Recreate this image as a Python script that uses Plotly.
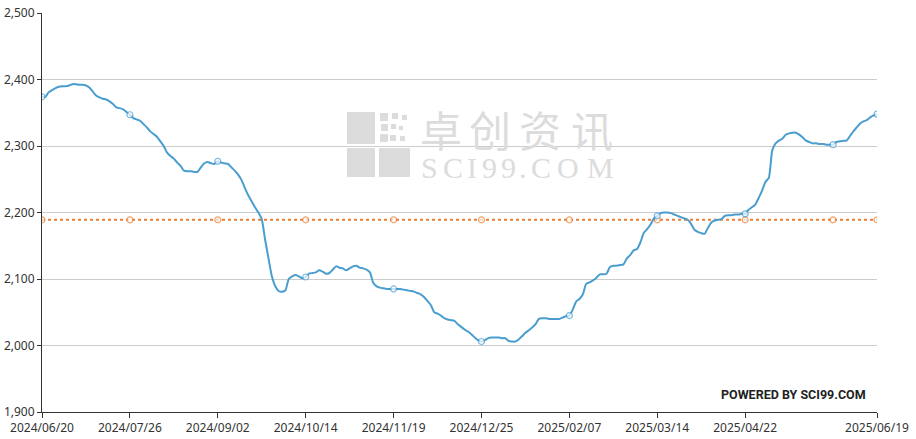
import pandas as pd
import plotly.graph_objects as go

# ---- categories: Chinese working days 2024/06/20 .. 2025/06/19 ----
holidays = ["2024-09-16", "2024-09-17", "2024-10-01", "2024-10-02", "2024-10-03",
            "2024-10-04", "2024-10-07", "2025-01-01", "2025-01-28", "2025-01-29",
            "2025-01-30", "2025-01-31", "2025-02-03", "2025-02-04", "2025-04-04",
            "2025-05-01", "2025-05-02", "2025-05-05", "2025-06-02"]
extra_workdays = ["2024-09-14", "2024-09-29", "2024-10-12", "2025-01-26",
                  "2025-02-08", "2025-04-27"]
_days = pd.bdate_range("2024-06-20", "2025-06-19")
_days = _days.difference(pd.to_datetime(holidays)).union(pd.to_datetime(extra_workdays))
dates = [d.strftime("%Y/%m/%d") for d in sorted(_days)]

# ---- series values ----
price = [
    2374, 2374, 2381, 2384, 2387, 2389, 2390, 2390, 2391, 2393,
    2393, 2392, 2392, 2391, 2388, 2382, 2376, 2373, 2371, 2370,
    2367, 2363, 2358, 2357, 2355, 2351, 2347, 2342, 2340, 2338,
    2333, 2328, 2322, 2318, 2314, 2307, 2300, 2290, 2285, 2281,
    2275, 2270, 2263, 2262, 2262, 2261, 2261, 2268, 2274, 2276,
    2274, 2273, 2277, 2275, 2274, 2273, 2268, 2263, 2257, 2249,
    2237, 2226, 2217, 2208, 2200, 2190, 2159, 2131, 2104, 2089,
    2082, 2081, 2083, 2100, 2104, 2106, 2104, 2101, 2103, 2108,
    2109, 2110, 2113, 2111, 2108, 2109, 2114, 2119, 2117, 2116,
    2113, 2116, 2119, 2120, 2117, 2116, 2114, 2110, 2094, 2089,
    2087, 2086, 2085, 2085, 2085, 2085, 2085, 2084, 2083, 2082,
    2081, 2079, 2077, 2073, 2067, 2061, 2050, 2048, 2045, 2041,
    2039, 2038, 2037, 2032, 2028, 2024, 2021, 2017, 2012, 2008,
    2006, 2008, 2011, 2012, 2012, 2012, 2011, 2011, 2007, 2006,
    2006, 2009, 2014, 2019, 2023, 2027, 2032, 2040, 2041, 2041,
    2040, 2040, 2040, 2040, 2042, 2044, 2045, 2054, 2066, 2070,
    2077, 2093, 2095, 2098, 2102, 2107, 2107, 2108, 2118, 2120,
    2120, 2121, 2122, 2131, 2136, 2143, 2145, 2155, 2169, 2175,
    2182, 2191, 2195, 2199, 2200, 2200, 2199, 2197, 2195, 2193,
    2191, 2189, 2183, 2174, 2171, 2169, 2168, 2177, 2185, 2188,
    2189, 2190, 2195, 2196, 2196, 2197, 2197, 2198, 2198, 2204,
    2208, 2212, 2222, 2233, 2246, 2252, 2293, 2304, 2308, 2311,
    2317, 2319, 2320, 2320, 2317, 2313, 2308, 2306, 2304, 2304,
    2303, 2303, 2302, 2302, 2302, 2306, 2307, 2308, 2308, 2315,
    2322, 2328, 2334, 2337, 2339, 2343, 2346, 2348,
]
average = 2189
avg_line = [average] * len(dates)

# ---- tick labels ----
tick_labels = ["2024/06/20", "2024/07/26", "2024/09/02", "2024/10/14", "2024/11/19",
               "2024/12/25", "2025/02/07", "2025/03/14", "2025/04/22", "2025/06/19"]
y_ticks = [1900, 2000, 2100, 2200, 2300, 2400, 2500]

n = min(len(dates), len(price))
marker_idx = [i for i in range(n) if i % 26 == 0] + [n - 1]
marker_sizes = [6 if i in marker_idx else 0 for i in range(n)]

BLUE = "#4a9dcf"
ORANGE = "#ec7d31"

# plot area in pixels
L, R, T, B = 42, 877, 13, 412


def px(x):
    return (x - L) / (R - L)


def py(y):
    return (B - y) / (B - T)


fig = go.Figure()
fig.add_trace(go.Scatter(
    x=dates[:n], y=avg_line[:n], mode="lines+markers",
    line=dict(color=ORANGE, width=2, dash="dot"),
    marker=dict(size=marker_sizes, color="white", line=dict(color=ORANGE, width=1.2)),
    hoverinfo="skip",
))
fig.add_trace(go.Scatter(
    x=dates[:n], y=price[:n], mode="lines+markers",
    line=dict(color=BLUE, width=2, shape="spline", smoothing=0.6),
    marker=dict(size=marker_sizes, color="white", line=dict(color=BLUE, width=1.2)),
))

# watermark
WM = "#dcdcdc"
for (x0, y0, x1, y1) in [(347, 112, 375, 144), (347, 148, 375, 177), (379, 148, 410, 177)]:
    fig.add_shape(type="rect", xref="paper", yref="paper",
                  x0=px(x0), x1=px(x1), y0=py(y1), y1=py(y0),
                  fillcolor=WM, line=dict(width=0), layer="below")
for (x0, y0, s) in [(380, 113, 8), (392, 113, 6), (402, 115, 5), (381, 124, 7),
                    (391, 124, 5), (399, 126, 4), (380, 134, 8), (390, 135, 6),
                    (400, 136, 5)]:
    fig.add_shape(type="rect", xref="paper", yref="paper",
                  x0=px(x0), x1=px(x0 + s), y0=py(y0 + s), y1=py(y0),
                  fillcolor=WM, line=dict(width=0), layer="below")
for ch, cx in zip("卓创资讯", [441, 490, 540, 592]):
    fig.add_annotation(x=px(cx), y=py(128), xref="paper", yref="paper",
                       xanchor="center", yanchor="middle", borderpad=0,
                       text=ch, showarrow=False,
                       font=dict(family="Noto Sans CJK SC", size=42, color=WM))
for ch, cx in zip("SCI99.COM", [429, 453, 472, 489, 508, 523, 541, 568, 600]):
    fig.add_annotation(x=px(cx), y=py(167), xref="paper", yref="paper",
                       xanchor="center", yanchor="middle", borderpad=0,
                       text=ch, showarrow=False,
                       font=dict(family="Liberation Serif", size=30, color=WM))

fig.add_annotation(x=px(868), y=py(394), xref="paper", yref="paper",
                   xanchor="right", yanchor="middle", showarrow=False,
                   text="<b>POWERED BY SCI99.COM</b>",
                   font=dict(family="Roboto", size=12.5, color="#222"))

fig.update_layout(
    width=916, height=439, autosize=False,
    margin=dict(l=L, r=916 - R, t=T, b=439 - B, pad=0),
    paper_bgcolor="white", plot_bgcolor="white",
    showlegend=False,
    font=dict(family="Noto Sans", size=12, color="#333"),
)
fig.update_xaxes(
    type="category", range=[0, n - 1], automargin=False,
    tickmode="array", tickvals=tick_labels, ticktext=tick_labels,
    showgrid=False, showline=True, linecolor="#333", linewidth=1,
    ticks="outside", ticklen=5, tickcolor="#333", tickangle=0,
    tickfont=dict(size=12, color="#333"),
)
fig.update_yaxes(
    range=[1900, 2500], tickmode="array", tickvals=y_ticks, tickformat=",",
    automargin=False,
    showgrid=True, gridcolor="#cccccc", gridwidth=1,
    showline=True, linecolor="#333", linewidth=1, zeroline=False,
    ticks="outside", ticklen=4, tickcolor="#333",
    tickfont=dict(size=12, color="#333"),
)

fig.write_html("out.html", config={"displayModeBar": False},
               post_script="document.body.style.margin='0';document.body.style.padding='0';")
